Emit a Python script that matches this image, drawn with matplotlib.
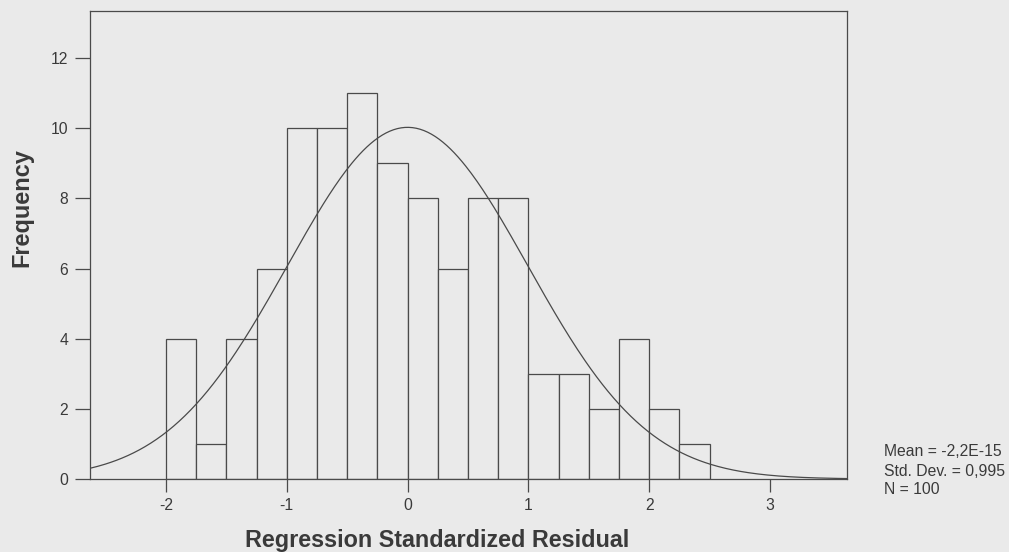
import matplotlib.pyplot as plt
import numpy as np

# histogram of regression standardized residuals (bin width 0.25)
bin_edges = [-2.0, -1.75, -1.5, -1.25, -1.0, -0.75, -0.5, -0.25, 0.0,
             0.25, 0.5, 0.75, 1.0, 1.25, 1.5, 1.75, 2.0, 2.25, 2.5]
counts = [4, 1, 4, 6, 10, 10, 11, 9, 8, 6, 8, 8, 3, 3, 2, 4, 2, 1]

mean = -2.2e-15
std_dev = 0.995
n_obs = 100

x_ticks = [-2, -1, 0, 1, 2, 3]
y_ticks = [0, 2, 4, 6, 8, 10, 12]

bg = "#eaeaea"
ink = "#4a4a4a"
txt = "#3a3a3a"

plt.rcParams["font.family"] = ["Liberation Sans", "DejaVu Sans"]

fig = plt.figure(figsize=(10.09, 5.52), dpi=100, facecolor=bg)
ax = fig.add_axes([90 / 1009, 1 - 479 / 552, 757 / 1009, 468 / 552])
ax.set_facecolor(bg)

lefts = np.array(bin_edges[:-1])
widths = np.diff(bin_edges)
ax.bar(lefts, counts, width=widths, align="edge", facecolor=bg,
       edgecolor=ink, linewidth=0.9)

# fitted normal curve scaled to counts
xmin, xmax = -2.629, 3.637
xs = np.linspace(xmin, xmax, 400)
bw = widths[0]
curve = n_obs * bw / (std_dev * np.sqrt(2 * np.pi)) * np.exp(-0.5 * ((xs - mean) / std_dev) ** 2)
ax.plot(xs, curve, color=ink, linewidth=0.9)

ax.set_xlim(xmin, xmax)
ax.set_ylim(0, 13.34)
ax.set_xticks(x_ticks)
ax.set_yticks(y_ticks)
ax.set_xticklabels([str(t) for t in x_ticks])
ax.set_yticklabels([str(t) for t in y_ticks])

for s in ax.spines.values():
    s.set_color(ink)
    s.set_linewidth(0.9)

ax.tick_params(axis="y", length=10.8, width=0.9, color=ink, pad=5,
               labelsize=11.3, labelcolor=txt)
ax.tick_params(axis="x", length=9.4, width=0.9, color=ink, pad=4,
               labelsize=11.3, labelcolor=txt)

fig.text(22 / 1009, 1 - 208 / 552, "Frequency", rotation=90, ha="center",
         va="center", fontsize=16.9, fontweight="bold", color=txt)
fig.text(437 / 1009, 1 - 540 / 552, "Regression Standardized Residual",
         ha="center", va="center", fontsize=16.8, fontweight="bold", color=txt)

stats = ["Mean = -2,2E-15", "Std. Dev. = 0,995", "N = %d" % n_obs]
for i, line in enumerate(stats):
    fig.text(884 / 1009, 1 - (452 + 19 * i) / 552, line, ha="left",
             va="center", fontsize=11.3, color=txt)

fig.savefig("out.png", dpi=100, facecolor=bg)
